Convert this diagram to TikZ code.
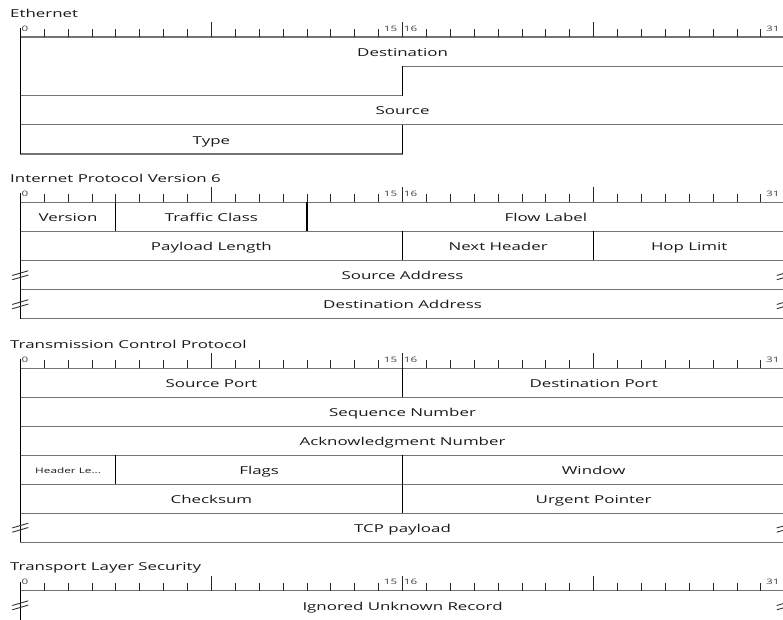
\documentclass[tikz,border=0pt]{standalone}
\usepackage{fontspec}
\setmainfont[FakeStretch=1.55]{Open Sans}
\tikzset{
  hln/.style={draw=black!55, line width=1.1pt},
  vln/.style={draw=black, line width=1.1pt},
  tck/.style={draw=black!85, line width=0.9pt},
  brk/.style={draw=black!80, line width=0.9pt},
  lbl/.style={font=\fontsize{10.9}{12}\selectfont, anchor=base, inner sep=0pt, text=black!90},
  sml/.style={font=\fontsize{7.6}{9}\selectfont, anchor=base, inner sep=0pt, text=black!90},
  ttl/.style={font=\fontsize{10.9}{12}\selectfont, anchor=base west, inner sep=0pt, text=black!90},
  num/.style={font=\fontsize{7.5}{9}\selectfont, inner sep=0pt, text=black!75},
}
\newcommand{\pktruler}[2]{%
  \draw[hln] (\xO,#1) -- (800,#1);
  \foreach \i in {1,...,31}{%
    \pgfmathsetmacro\hh{(mod(\i,8)==0)?15:8}%
    \draw[tck] ({\xO+\i*\bw},#1) -- ++(0,-\hh);
  }
  \node[num, anchor=west] (#2n0) at ({\xO+1.2},{#1-8.5}) {0};
  \node[num] (#2n15) at ({\xO+15.5*\bw},{#1-8.5}) {15};
  \node[num, anchor=west] (#2n16) at ({\xD+1.2},{#1-8.5}) {16};
  \node[num] (#2n31) at ({\xO+31.5*\bw},{#1-8.5}) {31};
}
\newcommand{\brkmark}[2]{%
  \draw[brk] ({#1-8},{#2+0.3}) -- ({#1+8},{#2-4.4});
  \draw[brk] ({#1-8},{#2+4.6}) -- ({#1+8},{#2-0.1});
}
\begin{document}
\begin{tikzpicture}[x=1pt,y=-1pt]
\useasboundingbox (0,0) rectangle (783,619);
\clip (0,0) rectangle (783,619);
\def\xO{20.3}
\def\bw{23.89}
\pgfmathsetmacro\xA{\xO+4*\bw}
\pgfmathsetmacro\xB{\xO+8*\bw}
\pgfmathsetmacro\xC{\xO+12*\bw}
\pgfmathsetmacro\xD{\xO+16*\bw}
\pgfmathsetmacro\xE{\xO+24*\bw}
\pgfmathsetmacro\xF{\xO+32*\bw}
\pgfmathsetmacro\cA{(\xO+\xA)/2}
\pgfmathsetmacro\cH{(\xO+\xD)/2}
\pgfmathsetmacro\cF{(\xO+\xF)/2}
\pgfmathsetmacro\cR{(\xD+\xF)/2}
\def\tb{4.8}

% ---------------- Ethernet ----------------
\def\R{37}
\node[ttl] (ethT) at (10,{\R-19.7}) {Ethernet};
\pktruler{\R}{eth}
\draw[hln] (\xD,66.25) -- (800,66.25);
\draw[hln] (\xO,95.5) -- (\xD,95.5);
\draw[vln] (\xD,66.25) -- (\xD,95.5);
\draw[hln] (\xO,124.75) -- (800,124.75);
\draw[hln] (\xO,154) -- (\xD,154);
\draw[vln] (\xD,124.75) -- (\xD,154);
\draw[vln] (\xO,{\R-9}) -- (\xO,154);
\node[lbl] (ethDst) at (\cF,{51.6+\tb}) {Destination};
\node[lbl] (ethSrc) at (\cF,{110.1+\tb}) {Source};
\node[lbl] (ethTyp) at (\cH,{139.4+\tb}) {Type};

% ---------------- IPv6 ----------------
\def\R{202.3}
\node[ttl] (ipT) at (10,{\R-20}) {Internet Protocol Version 6};
\pktruler{\R}{ip}
\draw[vln] (\xA,202.3) -- (\xA,231.3);
\draw[vln] (\xC,202.3) -- (\xC,231.3);
\draw[hln] (\xO,231.3) -- (800,231.3);
\draw[vln] (\xD,231.3) -- (\xD,260.6);
\draw[vln] (\xE,231.3) -- (\xE,260.6);
\draw[hln] (\xO,260.6) -- (800,260.6);
\draw[hln] (\xO,289.7) -- (800,289.7);
\draw[hln] (\xO,318.6) -- (800,318.6);
\draw[vln] (\xO,{\R-9}) -- (\xO,318.6);
\node[lbl] (ipVer) at (\cA,{216.8+\tb}) {Version};
\node[lbl] (ipTC) at ({(\xA+\xC)/2},{216.8+\tb}) {Traffic Class};
\node[lbl] (ipFL) at ({(\xC+\xF)/2},{216.8+\tb}) {Flow Label};
\node[lbl] (ipPL) at (\cH,{245.95+\tb}) {Payload Length};
\node[lbl] (ipNH) at ({(\xD+\xE)/2},{245.95+\tb}) {Next Header};
\node[lbl] (ipHL) at ({(\xE+\xF)/2},{245.95+\tb}) {Hop Limit};
\node[lbl] (ipSA) at (\cF,{275.15+\tb}) {Source Address};
\node[lbl] (ipDA) at (\cF,{304.15+\tb}) {Destination Address};
\brkmark{\xO}{275.15}
\brkmark{\xF}{275.15}
\brkmark{\xO}{304.15}
\brkmark{\xF}{304.15}

% ---------------- TCP ----------------
\def\R{368.3}
\node[ttl] (tcpT) at (10,{\R-20}) {Transmission Control Protocol};
\pktruler{\R}{tcp}
\draw[vln] (\xD,368.3) -- (\xD,397.2);
\foreach \yy in {397.2,426.2,455.2,484.2,513.1,542.1}{
  \draw[hln] (\xO,\yy) -- (800,\yy);
}
\draw[vln] (\xA,455.2) -- (\xA,484.2);
\draw[vln] (\xD,455.2) -- (\xD,513.1);
\draw[vln] (\xO,{\R-9}) -- (\xO,542.1);
\node[lbl] (tcpSP) at (\cH,{382.75+\tb}) {Source Port};
\node[lbl] (tcpDP) at (\cR,{382.75+\tb}) {Destination Port};
\node[lbl] (tcpSN) at (\cF,{411.7+\tb}) {Sequence Number};
\node[lbl] (tcpAN) at (\cF,{440.7+\tb}) {Acknowledgment Number};
\node[sml] (tcpHL) at (\cA,{469.7+3.3}) {Header Le...};
\node[lbl] (tcpFl) at ({(\xA+\xD)/2},{469.7+\tb}) {Flags};
\node[lbl] (tcpWi) at (\cR,{469.7+\tb}) {Window};
\node[lbl] (tcpCk) at (\cH,{498.65+\tb}) {Checksum};
\node[lbl] (tcpUP) at (\cR,{498.65+\tb}) {Urgent Pointer};
\node[lbl] (tcpPay) at (\cF,{527.6+\tb}) {TCP payload};
\brkmark{\xO}{527.6}
\brkmark{\xF}{527.6}

% ---------------- TLS ----------------
\def\R{590.7}
\node[ttl] (tlsT) at (10,{\R-20}) {Transport Layer Security};
\pktruler{\R}{tls}
\draw[vln] (\xO,{\R-9}) -- (\xO,630);
\node[lbl] (tlsIU) at (\cF,{605.2+\tb}) {Ignored Unknown Record};
\brkmark{\xO}{605.2}
\brkmark{\xF}{605.2}
\end{tikzpicture}
\end{document}
